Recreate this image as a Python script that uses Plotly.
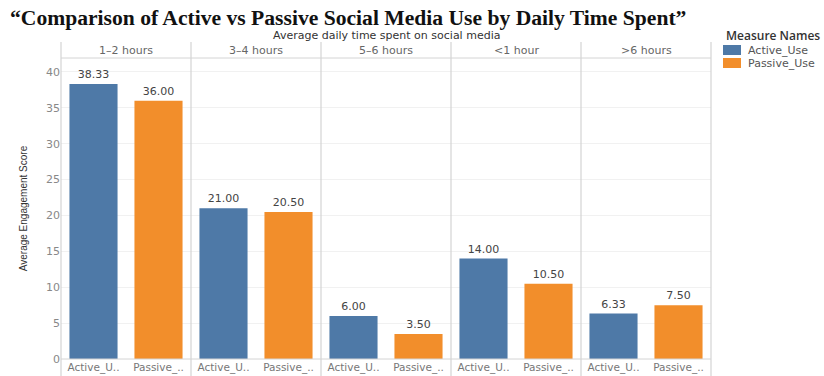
import plotly.graph_objects as go
from plotly.subplots import make_subplots

groups = ["1–2 hours", "3–4 hours", "5–6 hours", "<1 hour", ">6 hours"]
measures = ["Active_Use", "Passive_Use"]
tick_labels = ["Active_U..", "Passive_.."]
active_use = [38.33, 21.00, 6.00, 14.00, 6.33]
passive_use = [36.00, 20.50, 3.50, 10.50, 7.50]
colors = {"Active_Use": "#4e79a7", "Passive_Use": "#f28e2b"}

W, H = 824, 376
L, R, T, B = 61, 711, 58, 359
FONT = "DejaVu Sans"

fig = make_subplots(rows=1, cols=5, shared_yaxes=True, horizontal_spacing=0)

series = {"Active_Use": active_use, "Passive_Use": passive_use}
for i, g in enumerate(groups):
    for j, m in enumerate(measures):
        v = series[m][i]
        fig.add_trace(go.Bar(
            x=[tick_labels[j]], y=[v], name=m, legendgroup=m,
            showlegend=False, marker=dict(color=colors[m], line=dict(width=0)),
            width=0.74, text=[f"{v:.2f}"], textposition="outside",
            textfont=dict(size=11, color="#444444", family=FONT),
            cliponaxis=False,
        ), row=1, col=i + 1)
    fig.update_xaxes(type="category", categoryorder="array", categoryarray=tick_labels,
                     range=[-0.5, 1.5], showgrid=False, zeroline=False, showline=False,
                     ticks="", tickfont=dict(size=10.5, color="#777777", family=FONT),
                     ticklabelstandoff=0, automargin=False, row=1, col=i + 1)

fig.update_yaxes(range=[0, 41.95], dtick=5, showgrid=True, gridcolor="#f1f1f1",
                 zeroline=False, showline=False, ticks="", automargin=False,
                 tickfont=dict(size=11, color="#888888", family=FONT))
fig.update_yaxes(title=dict(text="Average Engagement Score",
                            font=dict(size=10, color="#333333", family="Liberation Sans"),
                            standoff=16), row=1, col=1)

def px_x(x):
    return (x - L) / (R - L)

def px_y(y):
    return (B - y) / (B - T)

shapes = []
for k in range(6):
    xp = px_x(L + k * (R - L) / 5)
    shapes.append(dict(type="line", xref="paper", yref="paper", x0=xp, x1=xp,
                       y0=px_y(378), y1=px_y(42), line=dict(color="#d4d4d4", width=1.2)))
shapes.append(dict(type="line", xref="paper", yref="paper", x0=0, x1=1,
                   y0=1, y1=1, line=dict(color="#d4d4d4", width=1)))
shapes.append(dict(type="line", xref="paper", yref="paper", x0=0, x1=1,
                   y0=0, y1=0, line=dict(color="#d4d4d4", width=1)))

annotations = []
for k, g in enumerate(groups):
    xc = px_x(L + (k + 0.5) * (R - L) / 5)
    annotations.append(dict(text=g, xref="paper", yref="paper", x=xc, y=px_y(50),
                            showarrow=False, xanchor="center", yanchor="middle",
                            font=dict(size=11, color="#666666", family=FONT)))
annotations.append(dict(text="Average daily time spent on social media", xref="paper", yref="paper",
                        x=px_x(386), y=px_y(35), showarrow=False, xanchor="center", yanchor="middle",
                        font=dict(size=11, color="#333333", family=FONT, weight=500)))

# legend drawn manually
annotations.append(dict(text="Measure Names", xref="paper", yref="paper",
                        x=px_x(724), y=px_y(35), showarrow=False, xanchor="left", yanchor="middle",
                        font=dict(size=12, color="#333333", family="Open Sans", weight=600)))
for j, m in enumerate(measures):
    yc = 50 + j * 13
    shapes.append(dict(type="rect", xref="paper", yref="paper",
                       x0=px_x(723), x1=px_x(741), y0=px_y(yc - 5), y1=px_y(yc + 5),
                       fillcolor=colors[m], line=dict(width=0)))
    annotations.append(dict(text=m, xref="paper", yref="paper",
                            x=px_x(746), y=px_y(yc), showarrow=False, xanchor="left", yanchor="middle",
                            font=dict(size=11, color="#555555", family=FONT)))

fig.update_layout(
    width=W, height=H,
    margin=dict(l=L, r=W - R, t=T, b=H - B, autoexpand=False),
    paper_bgcolor="white", plot_bgcolor="white", showlegend=False,
    title=dict(text="“Comparison of Active vs Passive Social Media Use by Daily Time Spent”",
               x=10 / W, xanchor="left", y=1 - 17 / H, yanchor="middle",
               font=dict(family="Liberation Serif", size=21.6, color="#111111", weight="bold")),
    shapes=shapes, annotations=annotations,
)

fig.write_html("out.html")
